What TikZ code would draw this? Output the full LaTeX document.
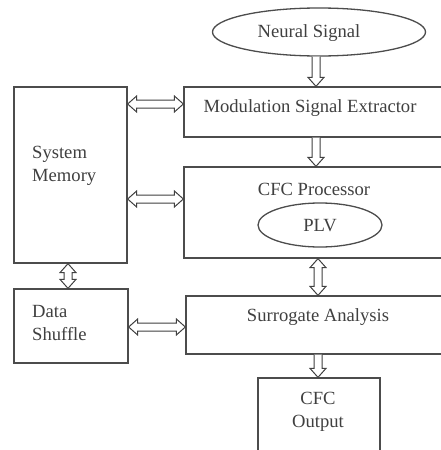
\documentclass[tikz,border=0pt]{standalone}
\usepackage{fontspec}
\setmainfont{Liberation Serif}
\usetikzlibrary{shapes.geometric,calc}
\begin{document}
\begin{tikzpicture}[x=1pt,y=-1pt,
  box/.style={draw=black!70, line width=1.3pt, rectangle, inner sep=0pt},
  oval/.style={draw=black!70, line width=1.3pt, ellipse, inner sep=0pt},
  txt/.style={font=\fontsize{18.6}{22.5}\selectfont, text=black!75, inner sep=0pt},
  blk/.style={draw=black!75, fill=white, line width=1pt, line join=miter},
  hdarrow/.style={blk, to path={let \p1=(\tikztostart), \p2=(\tikztotarget) in
    (\x1,\y1) -- (\x1+9pt,\y1+8pt) -- (\x1+9pt,\y1+4pt) -- (\x2-9pt,\y1+4pt) -- (\x2-9pt,\y1+8pt) -- (\x2,\y1)
    -- (\x2-9pt,\y1-8pt) -- (\x2-9pt,\y1-4pt) -- (\x1+9pt,\y1-4pt) -- (\x1+9pt,\y1-8pt) -- cycle}},
  vdarrow/.style={blk, to path={let \p1=(\tikztostart), \p2=(\tikztotarget) in
    (\x1,\y1) -- (\x1+8pt,\y1-9pt) -- (\x1+4pt,\y1-9pt) -- (\x1+4pt,\y2+9pt) -- (\x1+8pt,\y2+9pt) -- (\x1,\y2)
    -- (\x1-8pt,\y2+9pt) -- (\x1-4pt,\y2+9pt) -- (\x1-4pt,\y1-9pt) -- (\x1-8pt,\y1-9pt) -- cycle}},
  vsarrow/.style={blk, to path={let \p1=(\tikztostart), \p2=(\tikztotarget) in
    (\x1-4pt,\y1) -- (\x1-4pt,\y2+9pt) -- (\x1-8pt,\y2+9pt) -- (\x1,\y2) -- (\x1+8pt,\y2+9pt) -- (\x1+4pt,\y2+9pt) -- (\x1+4pt,\y1)}}
]
\useasboundingbox (0,0) rectangle (440,450);
\fill[white] (0,0) rectangle (440,450);

% shapes
\node[oval, minimum width=213pt, minimum height=48pt] (ns) at (319,32) {};
\node[box, minimum width=258pt, minimum height=50pt] (mod) at (313,112) {};
\node[box, minimum width=258pt, minimum height=91pt] (cfc) at (313,212.5) {};
\node[oval, minimum width=124pt, minimum height=44pt] (plv) at (320,225) {};
\node[box, minimum width=256pt, minimum height=58pt] (sur) at (314,325) {};
\node[box, minimum width=113pt, minimum height=176pt] (sm) at (70.5,175) {};
\node[box, minimum width=114pt, minimum height=74pt] (ds) at (71,326) {};
\node[box, minimum width=122pt, minimum height=77pt] (out) at (319,416.5) {};

% texts
\node[txt] (tns) at (309,33) {Neural Signal};
\node[txt] (tmod) at (310,108) {Modulation Signal Extractor};
\node[txt] (tcfc) at (314,189) {CFC Processor};
\node[txt] (tplv) at (320,226) {PLV};
\node[txt] (tsur) at (318,317) {Surrogate Analysis};
\node[txt, anchor=west, align=left] (tsm) at (32,166) {System\\Memory};
\node[txt, anchor=west, align=left] (tds) at (32,323) {Data\\Shuffle};
\node[txt, align=center] (tout) at (318,412) {CFC\\Output};

% helper coordinates
\coordinate (xa) at (316,0);
\coordinate (xb) at (318,0);
\coordinate (xc) at (68,0);
\coordinate (ya) at (0,104);
\coordinate (yb) at (0,199);
\coordinate (yc) at (0,327);

% connectors
\draw[vsarrow] (ns.south -| xa) to (mod.north -| xa);
\draw[vsarrow] (mod.south -| xa) to (cfc.north -| xa);
\draw[vdarrow] (cfc.south -| xb) to (sur.north -| xb);
\draw[vsarrow] (sur.south -| xb) to (out.north -| xb);
\draw[vdarrow] (sm.south -| xc) to (ds.north -| xc);
\draw[hdarrow] (sm.east |- ya) to (mod.west |- ya);
\draw[hdarrow] (sm.east |- yb) to (cfc.west |- yb);
\draw[hdarrow] (ds.east |- yc) to (sur.west |- yc);
\end{tikzpicture}
\end{document}
